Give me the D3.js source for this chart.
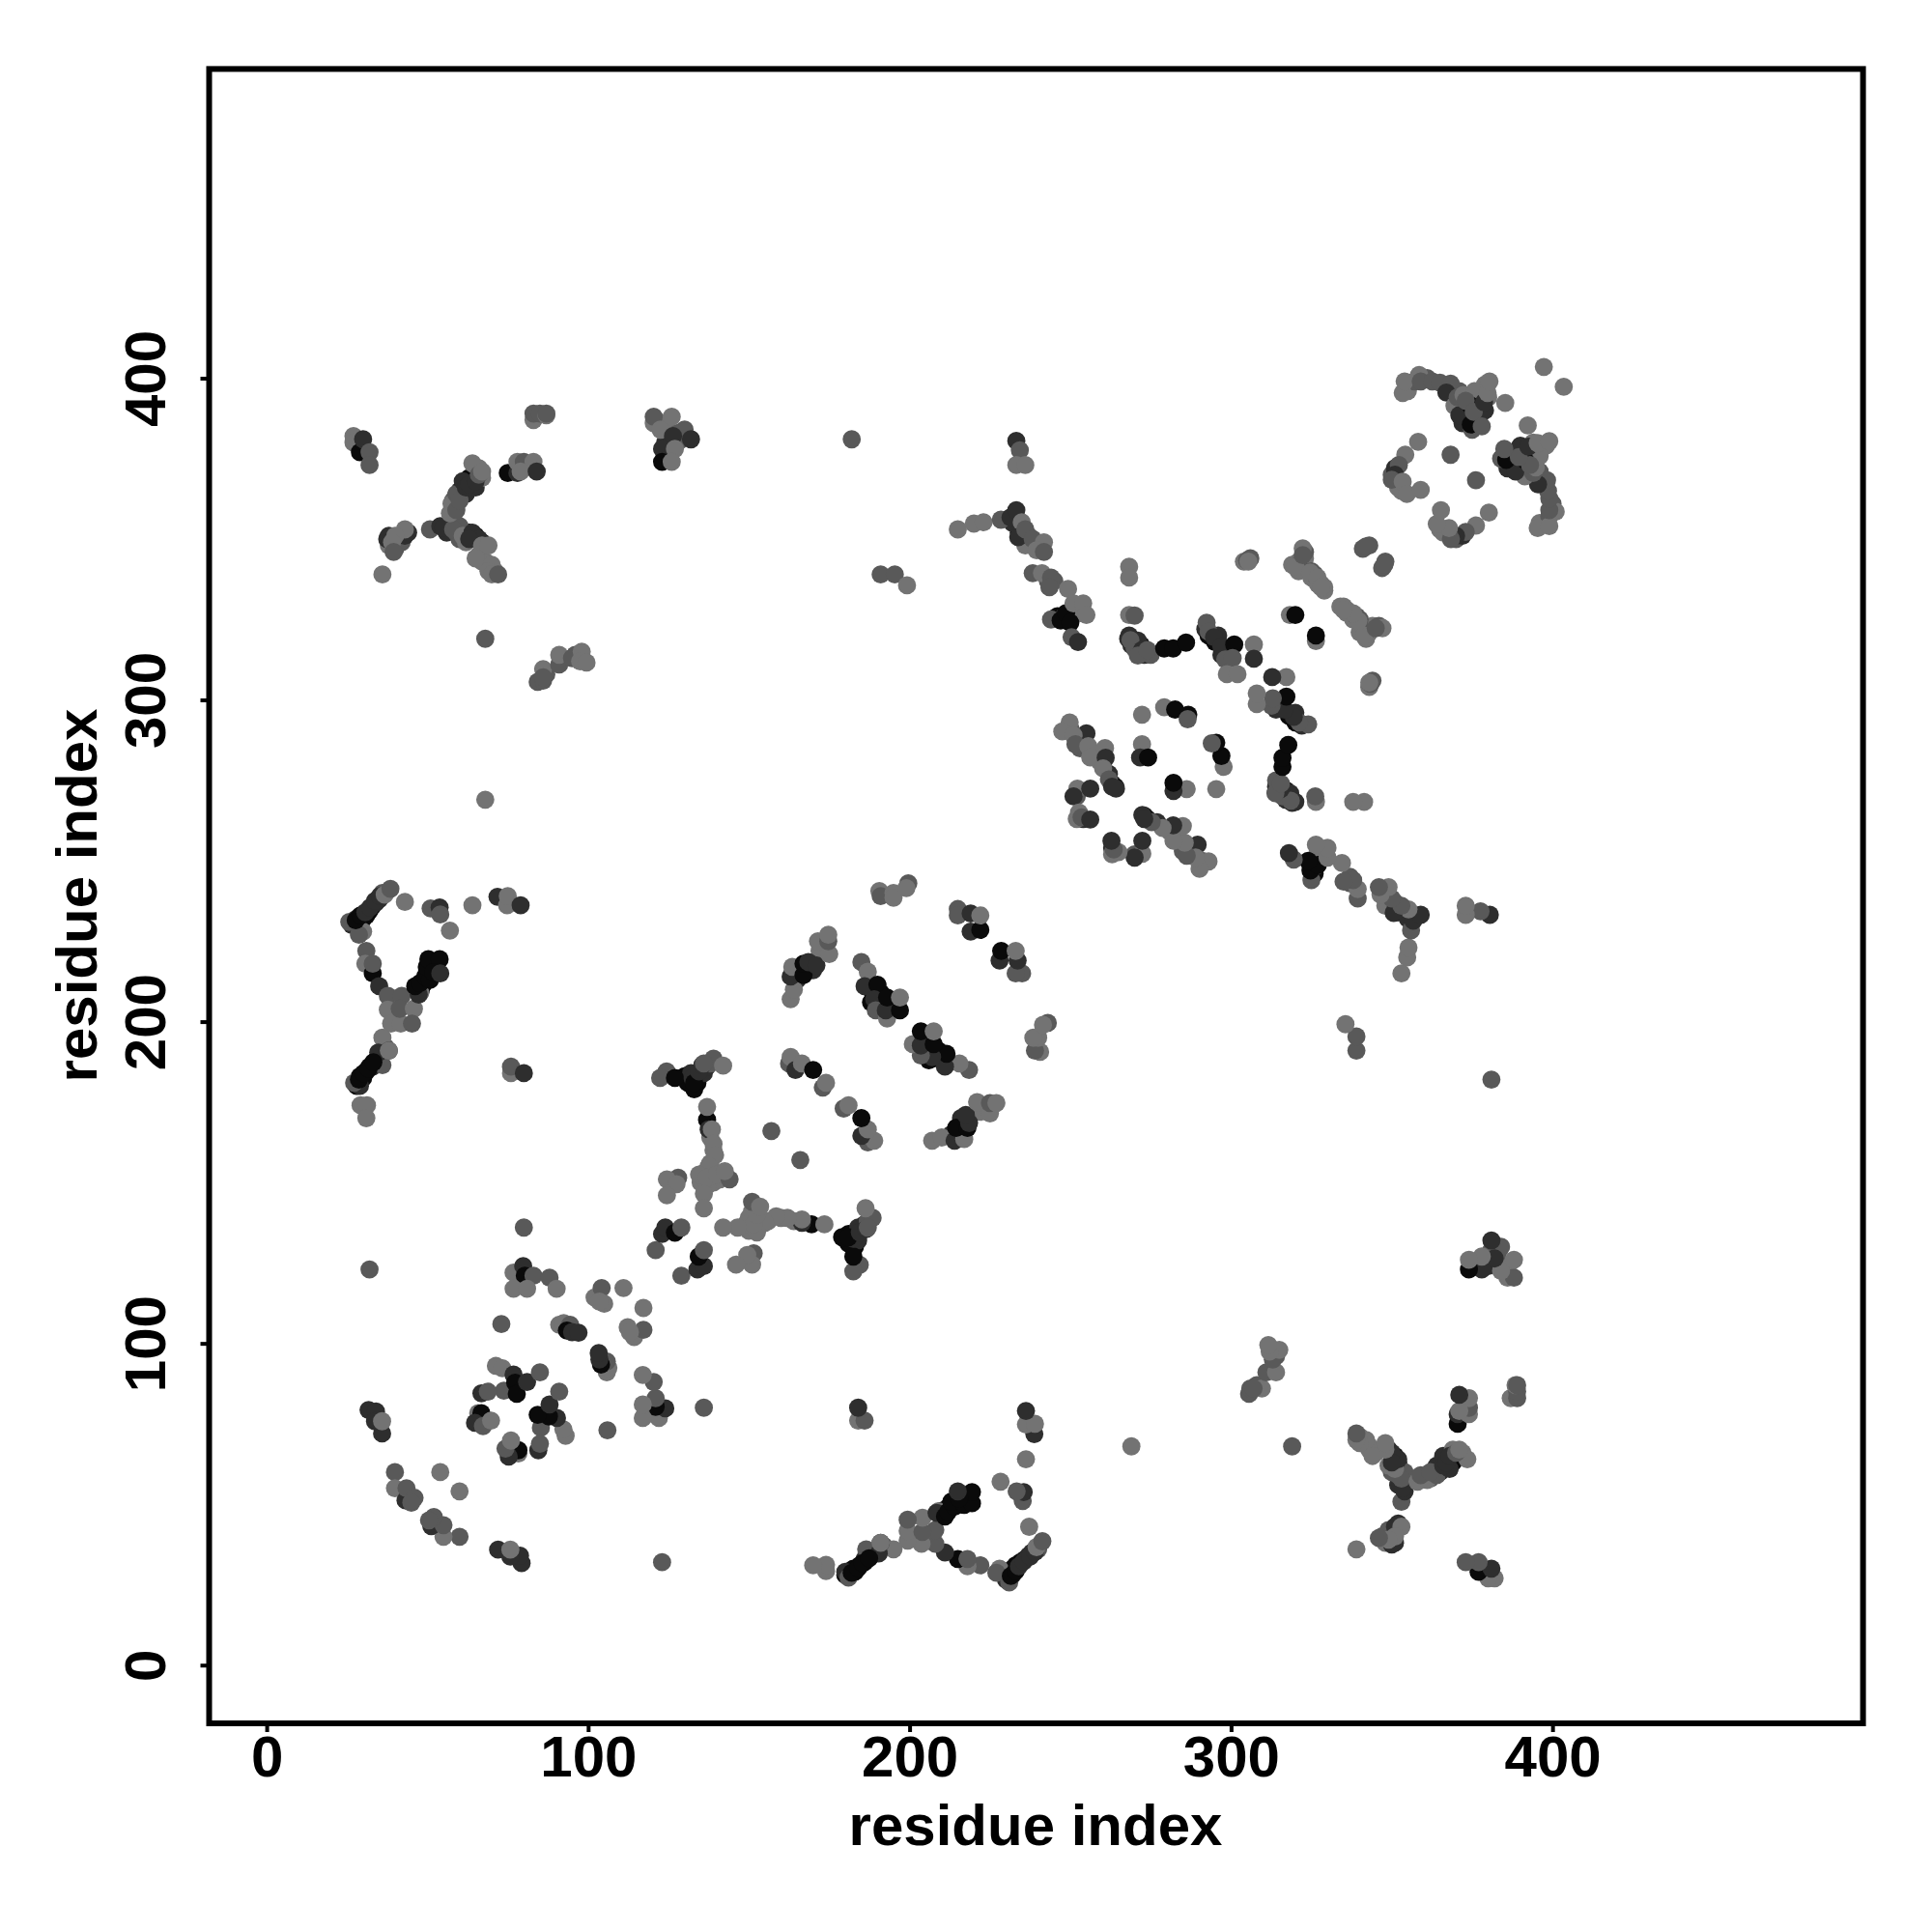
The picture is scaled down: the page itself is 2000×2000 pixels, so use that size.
<!DOCTYPE html>
<html><head><meta charset="utf-8">
<style>html,body{margin:0;padding:0;background:#fff}svg{display:block}text{font-family:"Liberation Sans",Arial,sans-serif;font-weight:700;fill:#000}</style>
<script src="https://cdn.jsdelivr.net/npm/d3@7"></script></head>
<body><svg id="c" width="2000" height="2000"></svg>
<script>
// Shade levels of the contact points (grey value 0-1)
const L=.45,M=.35,D=.18,K=.04;
const xTicks=[0,100,200,300,400], yTicks=[0,100,200,300,400];
const axisTitle="residue index";
// Contacts [i, j, shade], i<j; each is drawn with its mirror (j, i)
const dense1=[[26.5,230,D],[28,232,D],[29,231,K],[30,232,K],[31,233,K],[32,234.5,K],[33,236,K],[34,237,D],[35,238,D],[36,240,M],[30,228,L],[29,183,K],[30,182.5,K],[31,184.5,K],[32,186,K],[33,186,D],[34,188,D],[35,189.5,D],[37,192,M],[28,180,K],[29,180,D]];
const dense2=[[58,357,M],[58,362,M],[60,365,D],[62,364,D],[64,369,D],[65,366,D],[61,366,K],[63,369,K],[66,372,L],[67,369,L],[56,352,D],[57,354,D],[59,352,M],[60,350,M],[62,349,L],[63,352,K],[65,351,K],[67,349,K],[66,345,L],[68,343,L],[67,343,L],[69,341,L],[71,340,L],[38,348,L],[40,347,M],[41,350,L],[42,349,M],[37.5,350,D],[44,352,D]];
const dense3=[[370,392,M],[371,396,M],[373,390,D],[376,392,D],[376,388,D],[372,391,L],[377,387,D],[377,394,M],[379,390,D],[379,398,L],[380,394,L],[374,388,K],[372,386,D],[375,384,M],[355,396,L],[357,399,M],[361,400,M],[350,370,M],[351,368,M],[352,366,L],[353,365,L],[351,372,D]];
const dense4=[[304,343,L],[306,344,M],[321,343,L],[323,344,L],[321,340,L],[325,338,L],[327,336,L],[329,334,L],[323,341,L],[341,347,M],[343,348,M],[319,342,L],[321,342,M],[328,336,L],[329,335,L],[326,339,M],[325,340,M],[323,346,M]];
const dense5=[[268,319,D],[269,317,D],[270,316,M],[272,317,K],[273,314,D],[275,314,M],[292,322,D],[293,320,K],[295,318,K],[296,320,D],[298,315,K],[299,316,M],[297,314,D],[234,352,K],[235,351,D],[237,351,M],[236,348,L],[240,348,L],[232,355,D],[245,337,M],[243,337,M],[246,326,K],[249,325,K],[248,326,D],[252,328,L],[253,327,L]];
const dense6=[[250,291,M],[252,288,M],[253,285,M],[258,283,L],[259,281,L],[262,277,D],[263,274,D],[264,273,K],[252,270,M],[254,263,D],[252,263,L],[188,210,K],[188,206,K],[191,209,K],[191,205,D],[194,206,K],[195,204,D],[190,204,M],[165,213,D],[165,216,K],[168,216,K],[170,216,D],[173,223,L],[172,222,L]];
const dense7=[[130,183,K],[131,181,K],[134,181,K],[136,184,D],[137,186,D],[138,187,M],[132,184,D],[135,150,L],[136,153,L],[138,153,L],[139,150,L],[141,151,L],[137,149,L],[138,156,L],[139,160,L],[138,164,L],[48,210,K],[49,212,K],[50,215,K],[51,217,K],[52,218,K],[121,387,L],[124,386,L],[125,382,L],[128,383,M],[129,381,M],[124,380,D],[87,308,M],[92,313,M],[96,314,M],[98,313,L]];
const c27=[[27,382,L],[27,380,L],[29,377,K],[30,381,D],[32,377,M],[32,373,M]];
const c38=[[38,351,D],[43,351,D],[43,353,L],[40,351,L],[39,349,L],[39.5,346,M],[36,339,L]];
const c51=[[50.8,353,M],[54,354,D],[55,353.5,D],[60,354,M],[58,353,M],[61,351,L],[64,352,D],[66,350,D],[63,350,D],[67,348,L],[69,348,L],[65,344,L],[70,342,L],[69,340,L],[70,339,L],[72,339,M]];
const c57=[[57,358,L],[57.5,361,L],[59,359,M],[59,364,M],[60,362,M],[61,368,D],[62,366,D],[63,367,D],[65,368,D],[64,373.5,L],[66,370,M],[67,371,L]];
const c75=[[75,370.5,K],[78,370.5,D],[78,374,L],[80,374,M],[83,374,L],[79,371,L],[84,371,D]];
const c83=[[83,387,L],[83,389,M],[85,389,M],[87,388.5,L],[87,389,M]];
const c120=[[120.4,386,L],[120.4,388,M],[122.5,384,L],[126,388,L],[130,384,M],[126.4,382,D],[132,381,D],[123,378,D],[123,374,K],[127,378,L],[126,374,L]];
const c68=[[68,319,M],[68,269,L]];
const c84=[[84.3,305.6,M],[86,306,M],[86,309.6,L],[86,307,M],[91,311,M],[91,314,L],[95,313,M],[98,315,L],[97.5,312,L],[99.5,311.6,L]];
const c26=[[25.7,231,M],[28.7,227,M],[27.7,231.5,K],[29.2,233,K],[30.7,234,D],[32.2,235.5,D],[33.7,237.5,D],[35.2,239,D],[36.7,239.5,L],[38.5,241.3,M],[43,237.2,L]];
const c31=[[31,222,M],[30.7,218,L],[33,215,K],[33,218,M],[35,211,D],[37.7,208,M],[42,208,M],[37.7,203.7,L],[38.7,199.4,L],[41.7,199.4,L],[41.4,204,M],[45.8,204,L],[45.2,199.4,M]];
const c47=[[47.8,209,L],[47.3,208.4,D],[46.2,211,K],[47.7,212,K],[49.3,214,K],[50.8,213,K],[49.8,217,K],[50.3,219.4,K],[53.8,219.4,K],[51.8,215.4,K],[54,215,D]];
const c27b=[[36,195,L],[38,191,D],[36,186.5,M],[34.7,190.4,D],[38,191,L],[27.2,181,M],[28.7,182,K],[30.2,184,K],[31.7,185.4,K],[33.2,187.4,K],[29.2,174,L],[31.2,174,L],[31,170,L]];
const c51b=[[51,235.2,M],[53.8,235.5,D],[54,233.3,M],[57,228.3,L],[64,236.2,L],[71.8,238.8,D],[74.8,236.2,L],[75,239,L],[79,236.2,D],[76,184,L],[76,186,M],[80,184,D]];
const c74=[[32,123,M],[80,136,M],[73,106,M],[91,105.8,L],[92.4,106.3,L],[94.4,105.8,M],[93.4,104,K],[95,103.5,D],[97,103.3,D]];
const c77=[[76.8,122,L],[79.8,124,D],[80.3,121,K],[83,121,M],[88,120.4,M],[90.2,117,L],[76.8,117,L],[81,117,L]];
const c102=[[102,114.3,L],[104.2,117.2,M],[105,112.3,L],[103.5,113,L],[111,117.2,L]];
const c66=[[71.3,93,L],[73.3,92.3,L],[76.8,90.3,D],[73.8,85.3,M],[77.3,87.8,K],[77.8,84.3,K],[81,88,D],[85,91,M],[66.8,84.5,D],[68.8,85,M],[65.8,78.3,L],[66.8,78.3,K],[64.8,75.3,D],[67.3,74.3,M],[69.8,76,L]];
const c32=[[31.7,79.3,D],[34,78.8,D],[35.9,72,D],[33.7,75.8,D],[35.9,75.8,L],[39.9,60,M],[39.9,55,L],[43.2,51.2,D],[43.5,55,M],[46,52,M],[45,50.5,M],[54,60,L]];
const c123=[[121,129,M],[123,134,D],[124,136,D],[127,134.4,K],[129,136,M],[124.4,184.5,M],[122.4,182.5,M],[127,182.5,K],[132.5,182.5,D],[133,179,K],[133,181,K],[134.5,184.5,D],[135.5,186.5,D],[139,188.5,M],[136,187,M],[142,186.3,L]];
const c137=[[137,169.5,K],[137.5,166.5,D],[137,173.5,L],[138.5,166.5,L],[139,162,L],[139.5,158.5,L],[137.5,155,L],[134.5,152.5,L],[137,151.5,L],[140,152.5,L],[144,151,M],[142.5,153.5,L],[136,146.5,L],[136,142,L],[128,151.5,M],[124.5,151,L],[127.5,149.5,L],[124.5,146,L]];
const c157=[[157,166,M]];
const c163=[[163,207,L],[164,210,L],[163,214,D],[163.5,217,L],[167,214.5,K],[167,218,K],[168.5,218.5,D],[171,217.5,D],[175,221,L],[171.5,225,L],[174.7,225,M],[174.7,227,L]];
const c163b=[[162.5,187,M],[163,189,L],[164.5,185,D],[166.5,187,L],[170,185,K],[173,179.5,M],[174,181,L]];
const c185=[[185,218.5,M],[187,215.5,L],[186,211,D],[190,211.5,K],[189,207,D],[189.5,203.5,M],[193,201,L],[192.6,203.5,D],[193,207.5,K],[197,203.5,K],[197,207.5,L]];
const c190=[[190.6,240.6,L],[191,239,M],[195,240,L],[195,238.5,L],[199.6,243,M],[199,241.5,L]];
const c215=[[215,235,M],[215,233,M],[219,233.6,D],[219,228,D],[222,228.5,K],[222,233,L]];
const c182=[[182,381,M],[191,339,M],[195.4,339,M],[199.2,335.6,L]];
const c215b=[[215,353,L],[220,354.8,L],[223,355.2,L],[228.4,356,M],[231.4,356.7,D],[233.2,359,D],[234.9,355.2,L],[233.8,350.6,D],[236,353,M],[238.3,350,M],[241.8,349,L],[239.5,346.5,L],[241.8,346,M]];
const c233=[[233.2,380.5,D],[234.3,377.6,M],[233.2,373,L],[236,373,L]];
const c238=[[238.3,339.4,M],[241.2,339.4,L],[244,338,M],[243.5,335,M],[249.3,334.5,L],[244,325,M],[247,324.7,K],[248.7,327,K],[250,324,K],[251,330,L],[254,330,L],[255,326.4,L],[250.4,319.5,M],[252.4,318,D]];
const c268=[[268.3,341.4,L],[268.3,338,L],[268.3,326.4,L],[270,326.2,M],[268.3,320,D],[271,318.4,D],[268.7,318.6,M],[272.3,315.5,D],[271,313.8,M],[274,315.5,M],[279.2,316,K],[282,316,K],[286,317.8,K]];
const c292=[[292.4,324,M],[293,321.2,M],[294.7,319.5,D],[297,316.6,D],[301,317.2,K],[298.2,312.6,M],[300.5,313,M],[307.1,317.2,L],[307.1,312.8,D],[298.7,308,L],[302,308,L]];
const c248=[[249.8,293,L],[247.5,290.2,L],[255,289.6,D],[251,289,L],[251.6,286.2,M],[255.6,285.6,L],[260.8,285,L],[256.2,282.1,L],[261,282,D],[260.2,278.7,L],[262,275.3,M],[264.2,272.4,D],[263,273,D],[252.2,272.4,L],[251,270,D],[256.2,272.4,D],[252.7,265,L],[253.5,263.5,M],[256.2,262.8,D]];
const c272=[[272.3,295.4,L],[279.2,297.7,L],[282.6,297,K],[286.7,295.4,K],[286.5,294,M],[272.3,286.2,L],[271.7,282.1,D],[274.2,282.1,K]];
const c305=[[305,343.3,M],[305.4,343,L],[320,341.4,L],[322.3,347.1,L],[322.3,345,M],[324.6,339.6,L],[326.9,338,L],[328,335,L],[318.3,326.4,L],[320,326.4,K],[342,347.7,M]];
const c353=[[353.4,395.4,L],[354,399,L],[358.5,401,L],[359,399,M],[362.6,399,M],[365,398.6,M],[368.3,398.3,M],[367,395.5,D],[369.5,391.4,L],[371,388.5,D],[370.5,394,M],[372.3,394.8,L],[375.8,396,L],[374.6,391.4,K],[374.6,385.6,K],[373,393,M],[375.5,389.5,M],[378.7,392.5,D],[378,385,M],[379.8,395.4,L],[380.4,399,L],[385.3,392.3,L],[397.3,403.5,L]];
const c349=[[358.2,380.2,L],[354.2,376.2,L],[352.2,373,M],[351,370,D],[350,368.4,M],[353.4,367.8,L],[354.7,364,L],[359,365.3,L],[368.3,376.2,M]];
const clusters=[dense1,dense2,dense3,dense4,dense5,dense6,dense7,c27,c38,c51,c57,c75,c83,c120,c68,c84,c26,c31,c47,c27b,c51b,c74,c77,c102,c66,c32,c123,c137,c157,c163,c163b,c185,c190,c215,c182,c215b,c233,c238,c268,c292,c248,c272,c305,c353,c349];

const svg=d3.select("#c");
const x=d3.scaleLinear().domain([-17.9,496.6]).range([216.5,1928.6]);
const y=d3.scaleLinear().domain([-18.1,496.1]).range([1784,71.4]);
const grey=d3.scaleLinear().domain([0,1]).range(["#000","#fff"]);
const pts=clusters.flatMap(cl=>cl.flatMap(([i,j,s])=>[[i,j,s],[j,i,s]]));
svg.append("g").selectAll("circle").data(pts).join("circle")
  .attr("cx",d=>x(d[0])).attr("cy",d=>y(d[1])).attr("r",9.4).attr("fill",d=>grey(d[2]));
svg.append("rect").attr("x",216.5).attr("y",71.4).attr("width",1712.1).attr("height",1712.6)
  .attr("fill","none").attr("stroke","#000").attr("stroke-width",6);
const ax=svg.append("g").attr("transform","translate(0,1784)")
  .call(d3.axisBottom(x).tickValues(xTicks).tickSize(9).tickPadding(0).tickFormat(d3.format("d")));
const ay=svg.append("g").attr("transform","translate(216.5,0)")
  .call(d3.axisLeft(y).tickValues(yTicks).tickSize(9).tickPadding(0).tickFormat(d3.format("d")));
[ax,ay].forEach(g=>{g.select(".domain").remove();g.selectAll("line").attr("stroke","#000").attr("stroke-width",4);
  g.selectAll("text").attr("font-size",60).style("font-family",'"Liberation Sans"').style("font-weight",700).attr("fill","#000");});
ax.selectAll("text").attr("y",0).attr("dy",0).attr("transform","translate(0,55)").attr("text-anchor","middle");
ay.selectAll("text").attr("x",0).attr("y",0).attr("dy",0).attr("transform","translate(-45.5,0) rotate(-90)").attr("text-anchor","middle");
svg.append("text").attr("x",1072).attr("y",1910).attr("text-anchor","middle").attr("font-size",60).text(axisTitle);
svg.append("text").attr("transform","translate(99.5,927) rotate(-90)").attr("text-anchor","middle").attr("font-size",60).text(axisTitle);
</script></body></html>
